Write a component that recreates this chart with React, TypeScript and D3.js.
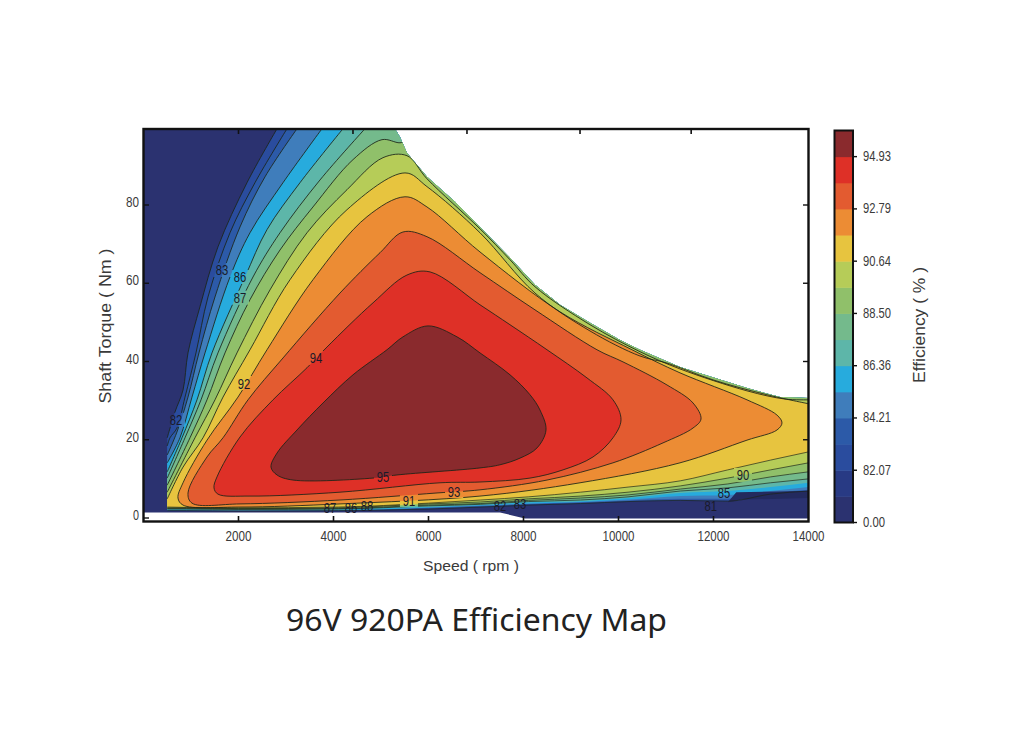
import React from "react";
import * as d3 from "d3";

type P = [number, number];

const title = "96V 920PA Efficiency Map";
const xTicks = [2000, 4000, 6000, 8000, 10000, 12000, 14000];
const topTicks = [2000, 4410, 6810, 9190, 11530];
const yTicks = [0, 20, 40, 60, 80];
const barLabels = ["0.00", "82.07", "84.21", "86.36", "88.50", "90.64", "92.79", "94.93"];
const barColors = ["#2B3270", "#283A84", "#2A4C9E", "#2C5AA8", "#3F7DBB", "#27ABDD", "#5DB6A9", "#74BA8C", "#90C06A", "#B6CC58", "#E7C43F", "#EC8C34", "#E35B30", "#DE3027", "#8A2A2D"];

const envelope: P[] = [[5295, 99.5], [5400, 97.4], [5547, 93.3], [5968, 87.2], [6558, 80.8], [7084, 74.4], [7716, 66.5], [8242, 59.6], [8768, 54.5], [9400, 49.9], [10032, 45.5], [10453, 43], [11295, 38.6], [12705, 33.2], [13400, 30.9], [14000, 30.7], [14000, -1], [0, -1], [0, 99.5]];
const basePatch: P[] = [[0, 99.5], [14000, 99.5], [14000, -0.1], [8032, -0.1], [7505, 1.4], [0, 1.4]];
const darkPatch: P[] = [[12300, 4], [12480, 6.6], [14000, 6.9], [14000, 5.1], [12600, 4.7]];

const lowerSpeeds = [500, 900, 2000, 4100, 6000, 7100, 8100, 9200, 10200, 11300, 12300, 13200, 14000];

const upperA: P[] = [[2811, 99.5], [2179, 85.7], [1568, 69.3], [1189, 54], [937, 42.2], [832, 32.7], [663, 27.1], [500, 20.5]];
const lowerA = [1.9, 1.9, 1.8, 1.9, 2.3, 2.8, 3.3, 3.7, 4.2, 4.5, 4.3, 6.1, 6.9];
const upperB: P[] = [[3021, 99.5], [2347, 85.7], [1821, 72.9], [1358, 56.5], [1105, 42.2], [874, 30.9], [705, 23], [558, 20.5], [500, 18.4]];
const lowerB = [2, 2, 1.9, 1.9, 2.4, 2.9, 3.5, 3.8, 4.3, 4.6, 4.6, 6.3, 7];
const upperC: P[] = [[3232, 99.5], [2558, 87.2], [2032, 74.4], [1505, 56.5], [1168, 42.2], [937, 30.9], [705, 22], [500, 16.1]];
const lowerC = [2, 2, 1.9, 2, 2.6, 3.1, 3.6, 4, 4.5, 4.9, 4.9, 6.4, 7.2];
const upperD: P[] = [[3758, 99.5], [2937, 85.7], [2242, 72.9], [1821, 61.6], [1295, 42.2], [1021, 30.9], [768, 20.5], [500, 14.1]];
const lowerD = [2, 2, 2, 2, 2.7, 3.2, 3.7, 4.1, 4.7, 5.6, 5.9, 6.9, 7.9];
const upperE: P[] = [[4200, 99.5], [3295, 85.7], [2600, 73.7], [2137, 61.6], [1442, 42.2], [1126, 30.2], [811, 20.5], [500, 11.8]];
const lowerE = [2.2, 2.2, 2, 2.2, 2.8, 3.3, 4, 4.3, 5.1, 6.4, 6.9, 7.9, 9];
const upperF: P[] = [[4663, 99.5], [3716, 86.4], [2874, 72.9], [2305, 61.6], [1568, 42.2], [1211, 30.2], [874, 20.5], [500, 10.2]];
const lowerF = [2.3, 2.3, 2.2, 2.3, 3.1, 3.5, 4.2, 4.6, 5.4, 6.9, 7.7, 9, 10];
const upperG: P[] = [[14000, 32.7], [7926, 68.5], [5611, 96.7], [5400, 95.9], [5021, 96.7], [4411, 91.6], [3568, 79.5], [2874, 68.5], [2242, 55.8], [1716, 42.2], [1337, 30.2], [979, 20.5], [500, 8.4]];
const lowerG = [2.4, 2.4, 2.3, 2.4, 3.3, 3.7, 4.5, 5.1, 5.9, 7.4, 8.7, 10.5, 11.8];
const upperH: P[] = [[14000, 30.2], [13505, 30.4], [12705, 32.5], [11295, 38.1], [10453, 42.5], [9400, 49.4], [8242, 59.1], [7716, 66], [7084, 73.9], [5968, 86.7], [5547, 92.6], [5042, 92.1], [4284, 83.9], [3442, 72.9], [2663, 58.3], [1968, 42.2], [1505, 30.2], [1084, 20.5], [500, 6.6]];
const lowerH = [2.6, 2.6, 2.4, 2.6, 3.6, 4.1, 4.9, 5.6, 6.6, 8.2, 10.2, 12.3, 14.1];
const upperI: P[] = [[14000, 29.2], [13126, 31.5], [11990, 35.3], [11021, 39.6], [10453, 41.4], [9400, 47.8], [8242, 57.5], [7084, 72.9], [5968, 84.7], [5505, 88.2], [4284, 78.8], [3084, 60.9], [2242, 43], [1674, 30.9], [1253, 20.5], [832, 13], [500, 4.9]];
const lowerI = [2.8, 2.7, 2.6, 2.8, 3.8, 4.6, 5.4, 6.6, 7.9, 9.5, 12.3, 14.8, 16.9];

const loopJ: P[] = [[5505, 82.1], [5968, 79.5], [7084, 68], [8768, 52.7], [10284, 43], [11295, 37.1], [12705, 30.2], [13337, 26.3], [13442, 24.3], [13337, 22.5], [12705, 19.9], [11295, 14.1], [9190, 9], [7084, 5.6], [4137, 3.6], [2032, 2.8], [832, 3.3], [726, 5.1], [832, 9], [1337, 19.9], [1989, 30.9], [2600, 43], [3568, 60.9], [4705, 77]];
const loopK: P[] = [[5463, 73.1], [5968, 71.9], [7084, 62.7], [8242, 53.2], [9547, 43], [10095, 39.9], [11021, 34], [11569, 29.4], [11737, 25.3], [11569, 23], [10937, 19.2], [9884, 14.1], [8495, 9.7], [7084, 7.2], [6179, 6.4], [4137, 4.6], [2032, 3.6], [1021, 3.8], [937, 6.4], [1337, 15.6], [1674, 20.5], [2200, 30.2], [2937, 40.9], [4137, 57.5], [4979, 67.8]];
const loopL: P[] = [[5547, 62.1], [6032, 62.9], [7084, 54.5], [7716, 49.4], [8495, 43], [9337, 35.8], [9884, 30.2], [10053, 25.1], [9884, 20.5], [9463, 15.6], [8832, 12.3], [8137, 10.2], [7084, 9.2], [6242, 9], [4137, 6.6], [2242, 5.6], [1568, 6.1], [1484, 7.7], [1547, 10.5], [2032, 20.7], [2726, 30.2], [3442, 38.4], [3863, 43.7], [4832, 55]];
const loopM: P[] = [[5990, 49.1], [6600, 46.3], [7084, 42.2], [7716, 36.6], [8137, 31.5], [8347, 27.6], [8474, 22.5], [8284, 17.9], [7926, 15.3], [7505, 13.6], [7084, 12.8], [5337, 11], [4832, 10.2], [3147, 9.7], [2811, 11], [2684, 13], [2811, 16.6], [3232, 22.5], [3779, 29.4], [4411, 36.6], [5126, 43], [5463, 46.3]];

const openLayers = [
  { upper: upperA, lower: lowerA, color: "#2A4C9E", lowerLine: 1 },
  { upper: upperB, lower: lowerB, color: "#2C5AA8", lowerLine: 0 },
  { upper: upperC, lower: lowerC, color: "#3F7DBB", lowerLine: 0 },
  { upper: upperD, lower: lowerD, color: "#27ABDD", lowerLine: 0 },
  { upper: upperE, lower: lowerE, color: "#5DB6A9", lowerLine: 0 },
  { upper: upperF, lower: lowerF, color: "#74BA8C", lowerLine: 1 },
  { upper: upperG, lower: lowerG, color: "#90C06A", lowerLine: 1 },
  { upper: upperH, lower: lowerH, color: "#B6CC58", lowerLine: 1 },
  { upper: upperI, lower: lowerI, color: "#E7C43F", lowerLine: 1 },
];
const closedLayers = [
  { loop: loopJ, color: "#EC8C34" },
  { loop: loopK, color: "#E35B30" },
  { loop: loopL, color: "#DE3027" },
  { loop: loopM, color: "#8A2A2D" },
];

const labelTexts = ["82", "83", "86", "87", "92", "94", "95", "93", "91", "88", "86", "87", "82", "83", "90", "85", "81"];
const labelSpeeds = [684, 1653, 2032, 2032, 2116, 3632, 5042, 6537, 5589, 4705, 4368, 3926, 7505, 7926, 12621, 12220, 11940];
const labelTorques = [25.1, 63.4, 61.6, 56.3, 34.5, 40.9, 10.5, 6.9, 4.6, 3.3, 2.8, 2.8, 3.3, 3.8, 11, 6.4, 3.1];
const labelBreaksLine = [1, 1, 1, 1, 1, 1, 1, 1, 1, 0, 0, 0, 0, 0, 1, 0, 0];

const x = d3.scaleLinear().domain([0, 14000]).range([143.5, 808.5]);
const y = d3.scaleLinear().domain([0, 80]).range([518, 205]);
const bar = d3.scaleLinear().domain([0, 15]).range([522.5, 130.5]);

const px = (p: P) => x(p[0]);
const py = (p: P) => y(p[1]);
const smooth = d3.line<P>().x(px).y(py).curve(d3.curveCatmullRom.alpha(0.5));
const straight = d3.line<P>().x(px).y(py);
const mono = d3.line<P>().x(px).y(py).curve(d3.curveMonotoneX);
const loop = d3.line<P>().x(px).y(py).curve(d3.curveCatmullRomClosed.alpha(0.5));

const FONT = "'Liberation Sans', Arial, sans-serif";
const axisColor = "#111";
const textColor = "#3a3a3a";
const lineColor = "#1c2418";

function Label({ x: lx, y: ly, text, width, size, anchor = "middle", color = textColor }: any) {
  return (
    <text x={lx} y={ly} fontFamily={FONT} fontSize={size} fill={color} textAnchor={anchor} dominantBaseline="central" textLength={width} lengthAdjust="spacingAndGlyphs">
      {text}
    </text>
  );
}

export default function App() {
  const corner = straight([[14000, 99.5]])!.replace(/^M/, "L").replace(/Z$/, "");
  const layers = openLayers.map((l) => {
    const lowerPts = lowerSpeeds.map((s, i) => [s, l.lower[i]] as P);
    const upperPath = smooth(l.upper)!;
    const lowerPath = mono(lowerPts)!;
    return { upperPath, lowerPath, fill: upperPath + lowerPath.replace(/^M/, "L") + corner + "Z", color: l.color, lowerLine: l.lowerLine };
  });
  const W = 1024, H = 731;
  return (
    <svg width={W} height={H} viewBox={`0 0 ${W} ${H}`} style={{ position: "absolute", left: 0, top: 0, background: "#fff" }}>
      <defs>
        <clipPath id="env"><path d={straight(envelope)! + "Z"} /></clipPath>
        <mask id="gaps" maskUnits="userSpaceOnUse" x={0} y={0} width={W} height={H}>
          <rect x={0} y={0} width={W} height={H} fill="#fff" />
          {labelTexts.map((t, i) => labelBreaksLine[i] ? (
            <rect key={i} x={x(labelSpeeds[i]) - 9} y={y(labelTorques[i]) - 7} width={18} height={14} fill="#000" />
          ) : null)}
        </mask>
      </defs>
      <rect x={0} y={0} width={W} height={H} fill="#fff" />
      <g clipPath="url(#env)">
        <path d={straight(basePatch)! + "Z"} fill="#2B3270" />
        {layers.map((l, i) => <path key={i} d={l.fill} fill={l.color} />)}
        <path d={straight(darkPatch)! + "Z"} fill="#232A5E" />
        {closedLayers.map((l, i) => <path key={i} d={loop(l.loop)!} fill={l.color} />)}
        <g mask="url(#gaps)" fill="none" stroke={lineColor} strokeWidth={1} strokeOpacity={0.85}>
          {layers.map((l, i) => (
            <g key={i}>
              <path d={l.upperPath} />
              {l.lowerLine ? <path d={l.lowerPath} strokeWidth={0.8} /> : null}
            </g>
          ))}
          {closedLayers.map((l, i) => <path key={i} d={loop(l.loop)!} />)}
        </g>
      </g>
      {labelTexts.map((t, i) => (
        <Label key={i} x={x(labelSpeeds[i])} y={y(labelTorques[i])} text={t} width={12.5} size={15.5} color="#1a1a2a" />
      ))}

      <rect x={143.5} y={129} width={665} height={392.5} fill="none" stroke={axisColor} strokeWidth={2.4} />
      {xTicks.slice(0, -1).map((t) => <line key={t} x1={x(t)} x2={x(t)} y1={521} y2={516} stroke={axisColor} strokeWidth={1.6} />)}
      {topTicks.map((t) => <line key={t} x1={x(t)} x2={x(t)} y1={129} y2={134} stroke={axisColor} strokeWidth={1.6} />)}
      {yTicks.map((t) => <line key={t} x1={144} x2={149} y1={y(t)} y2={y(t)} stroke={axisColor} strokeWidth={1.4} />)}
      {yTicks.slice(1).map((t) => <line key={t} x1={808} x2={803} y1={y(t)} y2={y(t)} stroke={axisColor} strokeWidth={1.4} />)}

      {xTicks.map((t) => <Label key={t} x={x(t)} y={536} text={String(t)} width={t >= 10000 ? 32 : 26} size={14} />)}
      {yTicks.map((t) => <Label key={t} x={139} y={y(t) - 3} text={String(t)} width={t === 0 ? 6 : 13} size={14} anchor="end" />)}

      <text x={471} y={566} fontFamily={FONT} fontSize={14.5} fill={textColor} textAnchor="middle" dominantBaseline="central" textLength={96} lengthAdjust="spacingAndGlyphs">Speed ( rpm )</text>
      <text transform="translate(105,326) rotate(-90)" fontFamily={FONT} fontSize={16} fill={textColor} textAnchor="middle" dominantBaseline="central" textLength={155} lengthAdjust="spacingAndGlyphs">Shaft Torque ( Nm )</text>
      <text transform="translate(919,325) rotate(-90)" fontFamily={FONT} fontSize={16} fill={textColor} textAnchor="middle" dominantBaseline="central" textLength={116} lengthAdjust="spacingAndGlyphs">Efficiency ( % )</text>
      <text x={476.5} y={619} fontFamily="'Noto Sans', sans-serif" fontSize={30} fill="#222" textAnchor="middle" dominantBaseline="central" textLength={381} lengthAdjust="spacingAndGlyphs">{title}</text>

      {barColors.map((c, i) => <rect key={i} x={834.5} y={bar(i + 1)} width={18.5} height={bar(i) - bar(i + 1) + 0.5} fill={c} />)}
      <rect x={834.5} y={130.5} width={18.5} height={392} fill="none" stroke={axisColor} strokeWidth={2} />
      {barLabels.map((t, i) => {
        const yy = bar(i === 0 ? 0 : i * 2);
        return (
          <g key={t}>
            <line x1={853} x2={857} y1={yy} y2={yy} stroke={axisColor} strokeWidth={1.4} />
            <Label x={863} y={yy - 0.5} text={t} width={t.length === 4 ? 22 : 28} size={14.5} anchor="start" />
          </g>
        );
      })}
    </svg>
  );
}
